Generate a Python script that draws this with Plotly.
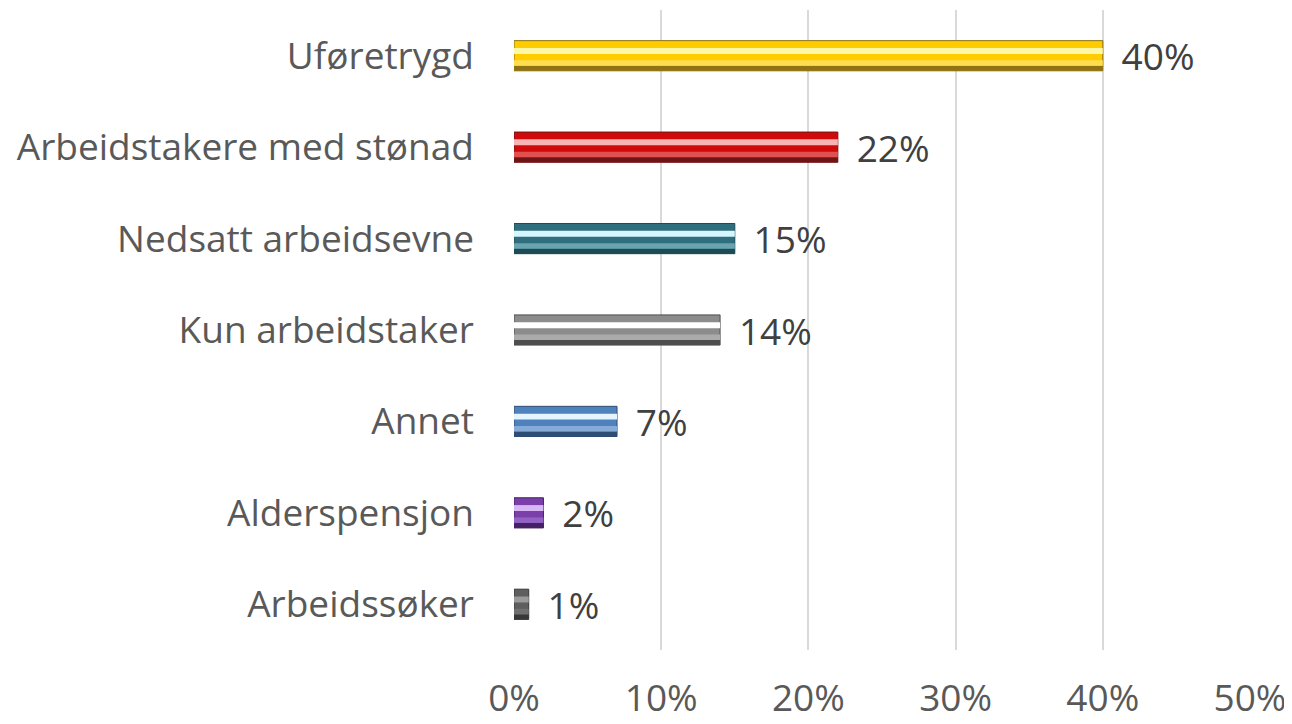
import plotly.graph_objects as go

# Data (listed bottom-to-top so the first category in the chart is at the top)
categories = ["Arbeidssøker", "Alderspensjon", "Annet", "Kun arbeidstaker",
              "Nedsatt arbeidsevne", "Arbeidstakere med stønad", "Uføretrygd"]
values = [0.01, 0.02, 0.07, 0.14, 0.15, 0.22, 0.40]
labels = ["1%", "2%", "7%", "14%", "15%", "22%", "40%"]
tick_vals = [0, 0.1, 0.2, 0.3, 0.4, 0.5]
tick_text = ["0%", "10%", "20%", "30%", "40%", "50%"]

base_colors = ["#5E5E5E", "#7A3FA8", "#4F81BD", "#8C8C8C", "#2F6E7C", "#D00A0A", "#FFCC00"]
dark_colors = ["#383838", "#452065", "#2E4D74", "#4E4E4E", "#1C4A55", "#6E1414", "#8E7214"]
light_colors = ["#9A9A9A", "#D8B8F4", "#E6F4FF", "#FFFFFF", "#D6F6FF", "#F8B4B4", "#FFF7A8"]
mid_colors = ["#707070", "#9462C4", "#86ABD8", "#ABABAB", "#6AA4AE", "#E05050", "#FFDD50"]

FONT = "Open Sans"
W = 0.33

fig = go.Figure()
# main bar
fig.add_trace(go.Bar(
    y=categories, x=values, orientation="h", width=W, offset=-W / 2,
    marker=dict(color=base_colors, line=dict(color=dark_colors, width=1)),
    text=labels, textposition="outside", texttemplate=" \u2006%{text}",
    constraintext="none",
    textfont=dict(family=FONT, size=37, color="#404040"),
    cliponaxis=False, hoverinfo="skip", showlegend=False,
))
# lower dark band
fig.add_trace(go.Bar(
    y=categories, x=values, orientation="h", width=0.055, offset=-W / 2,
    marker=dict(color=dark_colors, line=dict(width=0)),
    hoverinfo="skip", showlegend=False,
))
# lower lighter band
fig.add_trace(go.Bar(
    y=categories, x=values, orientation="h", width=0.06, offset=-0.11,
    marker=dict(color=mid_colors, line=dict(width=0)),
    hoverinfo="skip", showlegend=False,
))
# highlight band
fig.add_trace(go.Bar(
    y=categories, x=values, orientation="h", width=0.065, offset=0.02,
    marker=dict(color=light_colors, line=dict(width=0)),
    hoverinfo="skip", showlegend=False,
))

fig.update_layout(
    barmode="overlay",
    width=1284, height=716,
    margin=dict(l=506, r=42, t=2, b=74),
    paper_bgcolor="white", plot_bgcolor="white",
    font=dict(family=FONT, color="#595959"),
    xaxis=dict(
        range=[0, 0.5], tickvals=tick_vals, ticktext=tick_text,
        showgrid=True, gridcolor="#D9D9D9", gridwidth=2,
        zeroline=False, showline=False, automargin=False,
        tickfont=dict(family=FONT, size=37, color="#595959"),
        ticklabelstandoff=23,
    ),
    yaxis=dict(
        categoryorder="array", categoryarray=categories,
        showgrid=False, zeroline=False, showline=False, automargin=False,
        tickfont=dict(family=FONT, size=37, color="#595959"),
        ticklabelstandoff=39,
    ),
)

fig.write_html("out.html")
